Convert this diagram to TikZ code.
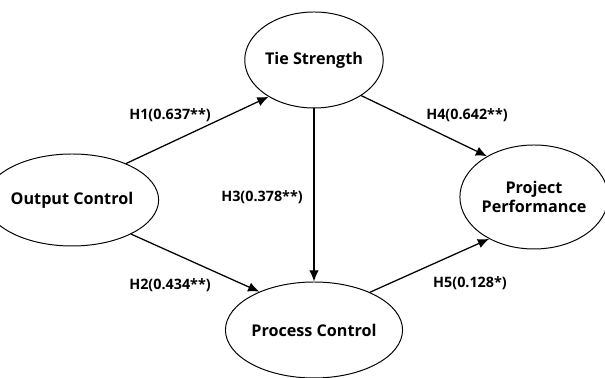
\documentclass[tikz,border=0pt]{standalone}
\usepackage{fontspec}
\setmainfont{Open Sans}
\usetikzlibrary{arrows.meta, shapes.geometric}
\begin{document}
\begin{tikzpicture}[
	construct/.style={draw, ellipse, line width=0.7pt, inner sep=0pt, align=center,
		font=\fontsize{11.5}{14}\selectfont\bfseries},
	link/.style={line width=0.9pt, -{Latex[length=2.8mm,width=2.4mm]}},
	coef/.style={font=\fontsize{10.2}{12}\selectfont\bfseries}]
		\useasboundingbox (0, 0) rectangle (15.125, 9.45);
		\node[construct, minimum width=3.5cm, minimum height=2.3cm] (oc) at (1.8, 4.45) {Output Control};
		\node[construct, minimum width=3.3cm, minimum height=2.4cm] (ts) at (7.85, 7.95) {Tie Strength};
		\node[construct, minimum width=3.35cm, minimum height=2.4cm] (pc) at (7.85, 1.2) {Process Control};
		\node[construct, minimum width=3.45cm, minimum height=2.6cm] (pp) at (13.35, 4.525) {Project\\Performance};
		\draw[link] (oc.34) -- (ts.219);
		\draw[link] (oc.330) -- (pc.145);
		\draw[link] (ts.south) -- (pc.north);
		\draw[link] (ts.323) -- (pp.139);
		\draw[link] (pc.34) -- (pp.223);
		\node[coef] (h1) at (4.25, 6.575) {H1(0.637**)};
		\node[coef] (h2) at (4.25, 2.325) {H2(0.434**)};
		\node[coef] (h3) at (6.55, 4.525) {H3(0.378**)};
		\node[coef] (h4) at (11.675, 6.575) {H4(0.642**)};
		\node[coef] (h5) at (11.75, 2.375) {H5(0.128*)};
	\end{tikzpicture}
\end{document}
